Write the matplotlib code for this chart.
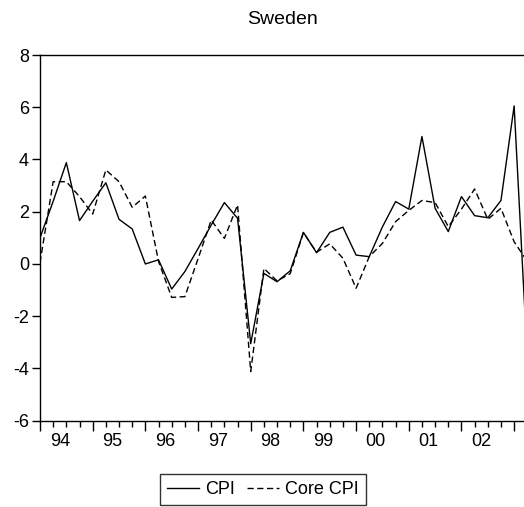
import numpy as np
import matplotlib
matplotlib.use("Agg")
import matplotlib.pyplot as plt
from matplotlib.ticker import MultipleLocator

# quarterly observations, 1994Q1 .. 2003Q2
years = ["94", "95", "96", "97", "98", "99", "00", "01", "02"]

cpi = [1.0, 2.4, 3.88, 1.66, 2.4, 3.11, 1.71, 1.34,
       0.0, 0.16, -0.96, -0.29, 0.59, 1.49, 2.35, 1.75,
       -3.05, -0.36, -0.68, -0.26, 1.21, 0.43, 1.21, 1.41,
       0.34, 0.28, 1.42, 2.39, 2.1, 4.88, 2.13, 1.24,
       2.58, 1.85, 1.77, 2.43, 6.05, -3.6]

core_cpi = [0.05, 3.15, 3.15, 2.58, 1.91, 3.6, 3.15, 2.17,
            2.6, 0.1, -1.28, -1.25, 0.2, 1.68, 0.98, 2.26,
            -4.12, -0.17, -0.65, -0.37, 1.2, 0.45, 0.77, 0.22,
            -0.93, 0.28, 0.79, 1.62, 2.05, 2.43, 2.35, 1.43,
            2.1, 2.87, 1.71, 2.13, 0.85, 0.1]

plt.rcParams['font.family'] = ['Liberation Sans', 'DejaVu Sans']
plt.rcParams['font.size'] = 13
plt.rcParams['axes.unicode_minus'] = False

fig = plt.figure(figsize=(5.24, 5.07), dpi=100)
W, H = 524.0, 507.0
ax = fig.add_axes([40 / W, 1 - 420.7 / H, 487.3 / W, 365.7 / H])

x = np.arange(len(cpi))
ax.plot(x, cpi, color='black', lw=1.0, label='CPI')
ax.plot(x, core_cpi, color='black', lw=1.0, linestyle=(0, (4.5, 2.5)), label='Core CPI')

ax.set_xlim(0, len(cpi) - 1)
ax.set_ylim(-6, 8)
ax.set_yticks(np.arange(-6, 9, 2))

ax.xaxis.set_major_locator(MultipleLocator(4))
ax.xaxis.set_minor_locator(MultipleLocator(1))
ax.set_xticklabels([])
ax.tick_params(axis='x', which='major', length=7, width=1.0, direction='out')
ax.tick_params(axis='x', which='minor', length=4, width=1.0, direction='out')
ax.tick_params(axis='y', length=6, width=1.0, direction='out', pad=2)

for i, y in enumerate(years):
    ax.text(4 * i + 1.5, -0.033, y, transform=ax.get_xaxis_transform(),
            ha='center', va='top', fontsize=13)

for s in ['left', 'bottom', 'top', 'right']:
    ax.spines[s].set_linewidth(1.0)

fig.text(283 / W, 1 - 19.5 / H, 'Sweden', ha='center', va='center', fontsize=14)

leg = fig.legend(loc='center', bbox_to_anchor=(263 / W, 1 - 489.5 / H),
                 ncol=2, frameon=True, fancybox=False, edgecolor='black',
                 handlelength=1.75, handletextpad=0.35, columnspacing=0.7,
                 borderpad=0.4, borderaxespad=0, fontsize=13)
leg.get_frame().set_linewidth(1.0)

fig.savefig('out.png', dpi=100)
